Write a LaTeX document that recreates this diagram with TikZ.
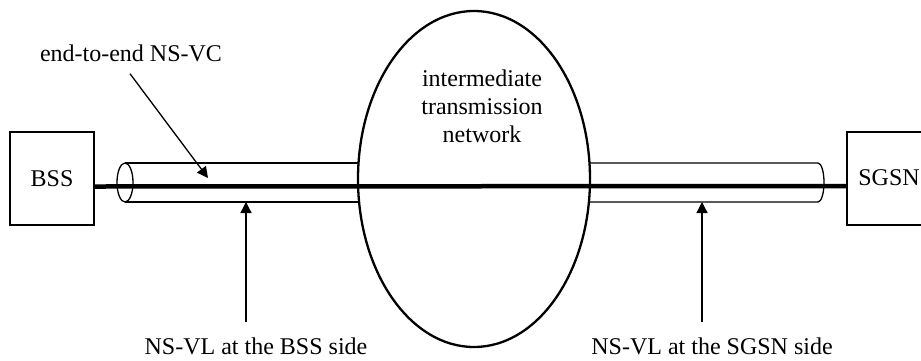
\documentclass[tikz,border=0pt]{standalone}
\usepackage{fontspec}
\setmainfont{Liberation Serif}
\usetikzlibrary{arrows.meta,shapes.geometric}
\begin{document}
\begin{tikzpicture}[x=1pt,y=-1pt,
  font=\fontsize{24}{28}\selectfont,
  box/.style={draw,line width=2pt,minimum width=84pt,minimum height=93pt,inner sep=0pt},
  tube/.style={line width=1.3pt},
  link/.style={line width=4.5pt},
  cloud/.style={draw,ellipse,line width=2.3pt,minimum width=232pt,minimum height=336pt,inner sep=0pt},
  arr/.style={line width=1.3pt,-{Triangle[length=11pt,width=11pt]}},
  lbl/.style={inner sep=0pt}]
\useasboundingbox (0,0) rectangle (921,360);
% boxes
\node[box] (bss) at (52,178.5) {BSS};
\node[box] (sgsn) at (889,178) {SGSN};
% intermediate network
\node[cloud] (net) at (474,179) {};
\node[lbl,align=center] (netlbl) at (482,106) {intermediate\\transmission\\network};
% left tube
\draw[tube] (125,163) -- (358.5,163);
\draw[tube] (125,202) -- (359.1,202);
\draw[tube] (125,182.5) ellipse [x radius=8, y radius=19.5];
% right tube
\draw[tube] (589.5,163) -- (818,163) arc[start angle=-90,end angle=90,x radius=6,y radius=19.5] -- (588.9,202);
% end-to-end link
\draw[link] ([yshift=-8pt]bss.east) -- ([yshift=-8pt]sgsn.west);
% labels
\node[lbl] (vclbl) at (131,53) {end-to-end NS-VC};
\node[lbl] (bsslbl) at (256,346) {NS-VL at the BSS side};
\node[lbl] (sgsnlbl) at (712,346) {NS-VL at the SGSN side};
% arrow targets
\coordinate (vctip) at (208,178);
\coordinate (bsstip) at (246,202);
\coordinate (sgsntip) at (702,202);
% arrows
\draw[arr] ([xshift=-1pt,yshift=-12pt]vclbl.south) -- (vctip);
\draw[arr] (bsslbl.north -| bsstip) ++(0,-15) -- (bsstip);
\draw[arr] (sgsnlbl.north -| sgsntip) ++(0,-15) -- (sgsntip);
\end{tikzpicture}
\end{document}
